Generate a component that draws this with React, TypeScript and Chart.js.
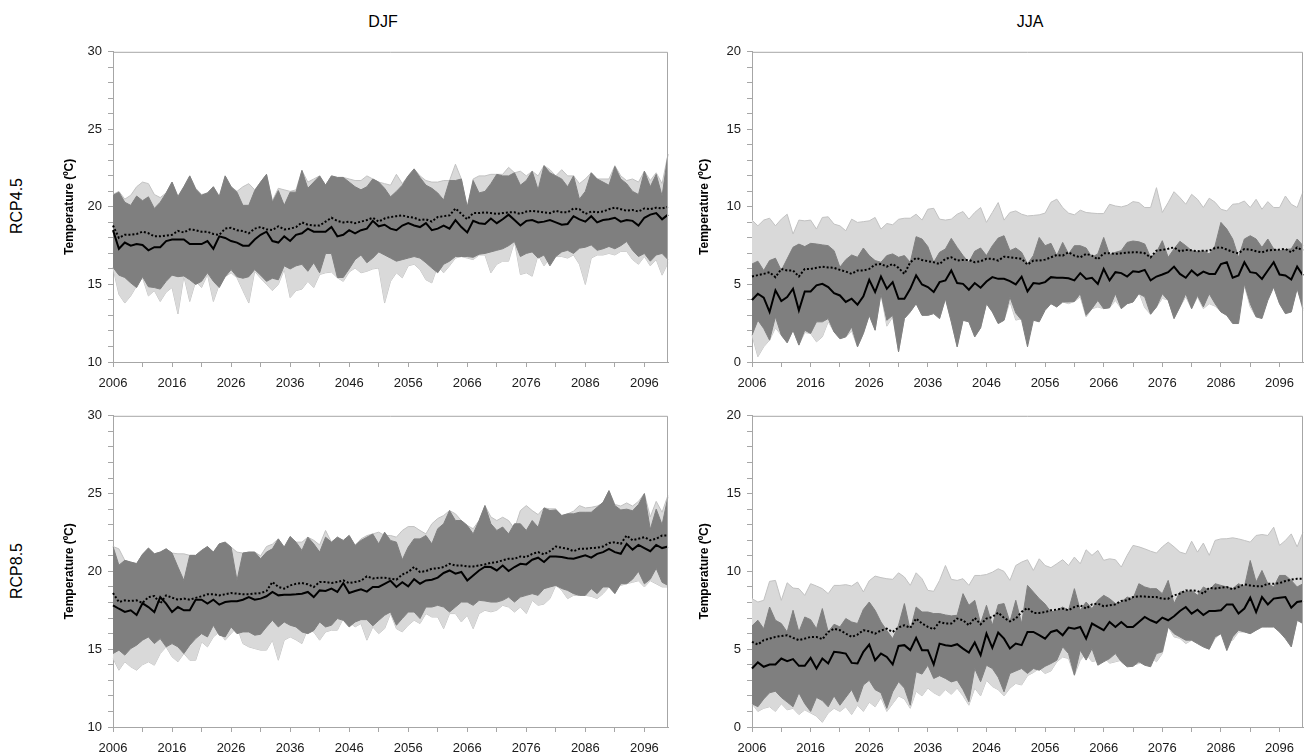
import React, { useEffect, useRef } from 'react';
import { Chart, registerables } from 'chart.js';

Chart.register(...registerables);

const FONT = '"Liberation Sans", Arial, Helvetica, sans-serif';
const LIGHT = '#d9d9d9';
const LIGHT_EDGE = '#c2c2c2';
const DARK = '#7f7f7f';
const AXIS = '#a6a6a6';
const TEXT = '#1a1a1a';

const years: string[] = [];
for (let y = 2006; y <= 2100; y++) years.push(String(y));

// ---------- DJF RCP4.5 ----------
const djf45Solid = [18.5, 17.3, 17.7, 17.5, 17.6, 17.55, 17.2, 17.4, 17.4, 17.8,
  17.9, 17.9, 17.9, 17.6, 17.6, 17.6, 17.8, 17.3, 18.1, 18.0,
  17.8, 17.7, 17.5, 17.5, 17.9, 18.2, 18.4, 17.8, 17.7, 18.1,
  17.8, 18.2, 18.3, 18.6, 18.4, 18.4, 18.4, 18.7, 18.1, 18.2,
  18.5, 18.3, 18.5, 18.6, 19.1, 18.75, 18.85, 18.6, 18.5, 18.8,
  18.95, 18.8, 18.7, 18.95, 18.5, 18.6, 18.8, 18.6, 19.15, 18.7,
  18.35, 19.1, 18.95, 18.9, 19.25, 18.95, 19.2, 19.5, 19.15, 18.8,
  19.1, 19.15, 19.0, 19.05, 19.15, 19.0, 18.85, 18.9, 19.4, 19.2,
  19.05, 19.4, 19.0, 19.15, 19.2, 19.3, 19.05, 19.15, 19.1, 18.8,
  19.3, 19.5, 19.6, 19.2, 19.5];
const djf45Dotted = [18.8, 18.0, 18.2, 18.2, 18.25, 18.4, 18.3, 18.1, 18.1, 18.15,
  18.2, 18.45, 18.35, 18.55, 18.5, 18.4, 18.4, 18.25, 18.2, 18.6,
  18.65, 18.5, 18.45, 18.3, 18.6, 18.7, 18.55, 18.5, 18.75, 18.55,
  18.6, 18.7, 19.0, 18.85, 18.8, 18.8, 19.05, 19.3, 19.1, 19.0,
  19.05, 18.95, 19.05, 19.15, 19.3, 19.05, 19.25, 19.35, 19.4, 19.45,
  19.35, 19.3, 19.15, 19.2, 19.05, 19.35, 19.4, 19.45, 19.9, 19.55,
  19.2, 19.6, 19.6, 19.65, 19.6, 19.55, 19.6, 19.65, 19.65, 19.55,
  19.7, 19.75, 19.7, 19.65, 19.6, 19.75, 19.65, 19.65, 19.9, 19.85,
  19.55, 19.7, 19.65, 19.7, 19.85, 19.95, 19.85, 19.75, 19.8, 19.7,
  19.9, 19.85, 19.95, 19.9, 20.0];
const djf45DarkHi = [20.75, 20.95, 20.3, 20.1, 20.7, 20.4, 20.65, 19.9, 20.3, 20.9,
  21.6, 20.65, 21.3, 22.0, 21.15, 20.75, 20.9, 21.3, 20.65, 22.0,
  21.3, 20.95, 20.1, 20.1, 21.05, 21.6, 22.1, 20.3, 21.05, 20.1,
  20.95, 20.95, 22.35, 21.2, 21.6, 22.0, 21.4, 22.0, 21.9, 21.9,
  21.6, 21.3, 21.1, 21.3, 21.8, 21.6, 21.2, 20.65, 21.0, 21.4,
  22.0, 22.45, 21.9, 21.4, 21.2, 20.9, 20.45, 21.7, 21.7, 21.8,
  20.0, 21.7, 20.9, 21.0, 21.5, 22.1, 22.0, 22.0, 22.2, 21.4,
  21.7, 22.3, 21.1, 22.66, 22.2, 22.0, 21.8, 21.3, 22.0, 20.5,
  21.0, 22.2, 21.8, 21.6, 21.4, 22.6, 21.8, 21.5, 21.0, 20.8,
  22.3, 21.3, 22.1, 20.7, 23.4];
const djf45DarkLo = [16.1, 15.6, 15.45, 15.1, 14.8, 15.5, 14.85, 14.8, 14.7, 15.2,
  15.6, 15.5, 15.55, 15.3, 15.0, 15.2, 15.75, 15.2, 14.8, 15.5,
  15.96, 15.5, 15.4, 15.5, 15.96, 15.6, 15.2, 15.4, 15.3, 16.2,
  16.0, 16.2, 16.3, 15.85, 16.4, 15.75, 17.0, 17.0, 15.45, 15.45,
  16.0, 16.6, 16.9, 16.4, 16.7, 17.1, 16.9, 16.7, 16.5, 16.6,
  16.7, 16.8, 16.7, 16.4, 16.06, 15.75, 16.3, 16.5, 16.8, 16.8,
  16.8, 16.75, 16.95, 17.0, 17.1, 17.2, 17.3, 17.5, 17.77, 16.8,
  17.0, 17.1, 16.7, 16.9, 16.2, 16.8, 17.1, 17.2, 17.0, 17.34,
  17.4, 17.55, 17.2, 17.3, 17.45, 17.3, 17.5, 17.77, 17.2, 16.8,
  17.0, 16.5, 16.9, 17.0, 16.6];
const djf45LightHi = [20.8, 21.0, 20.5, 20.75, 21.3, 21.6, 21.5, 20.8, 20.6, 20.9,
  21.6, 20.7, 21.3, 22.0, 21.2, 20.8, 20.9, 21.3, 20.7, 22.0,
  21.3, 21.0, 21.3, 21.5, 21.1, 21.6, 22.1, 20.4, 21.2, 21.1,
  21.0, 21.1, 22.35, 21.6, 21.8, 22.0, 21.4, 22.0, 21.9, 21.9,
  21.8, 21.7, 21.7, 22.0, 21.8, 21.6, 21.5, 21.4, 22.1, 21.5,
  22.0, 22.45, 22.0, 21.7, 21.6, 21.6, 21.7, 21.7, 22.75, 21.8,
  19.95, 21.8, 22.0, 22.0, 22.1, 22.1, 22.1, 22.55, 22.2, 22.3,
  22.0, 22.3, 22.0, 22.66, 22.4, 22.0, 22.4, 22.0, 22.0, 21.5,
  21.8, 22.2, 21.8, 21.8, 21.8, 22.66, 22.0, 21.7, 21.8, 21.6,
  22.3, 21.7, 22.2, 21.5, 23.4];
const djf45LightLo = [16.06, 14.36, 13.8, 14.26, 14.9, 15.43, 14.26, 14.6, 13.9, 14.5,
  14.8, 13.1, 15.53, 13.9, 15.2, 14.8, 15.64, 13.9, 15.0, 15.5,
  15.75, 15.43, 14.6, 13.8, 15.85, 15.4, 15.0, 14.6, 15.0, 15.96,
  14.15, 14.6, 14.7, 15.2, 14.8, 15.64, 15.75, 15.8, 15.43, 15.2,
  15.8, 16.06, 15.75, 15.85, 16.0, 16.06, 13.8, 15.2, 15.75, 15.43,
  16.2, 16.3, 15.96, 15.3, 15.1, 16.2, 15.75, 16.2, 16.7, 16.8,
  16.7, 16.6, 16.9, 16.9, 15.75, 16.3, 16.5, 16.5, 17.77, 15.64,
  15.75, 15.53, 16.9, 16.2, 16.7, 16.8, 16.8, 16.7, 16.9, 16.3,
  15.0, 16.7, 16.9, 16.9, 17.0, 16.9, 17.13, 17.13, 16.6, 16.3,
  16.8, 16.2, 16.6, 15.6, 16.4];

// ---------- JJA RCP4.5 ----------
const jja45Solid = [4.0, 4.4, 4.15, 3.23, 4.62, 3.93, 4.19, 4.72, 3.33, 4.55,
  4.55, 4.94, 5.04, 4.83, 4.44, 4.29, 3.87, 4.08, 3.7, 4.23,
  5.3, 4.51, 5.51, 4.72, 5.15, 4.08, 4.08, 4.72, 5.58, 5.0,
  4.83, 4.51, 5.15, 5.26, 5.9, 5.09, 5.04, 4.66, 5.09, 4.79,
  5.19, 5.47, 5.36, 5.36, 5.21, 5.0, 5.5, 4.55, 5.09, 5.04,
  5.15, 5.47, 5.43, 5.43, 5.4, 5.26, 5.73, 5.36, 5.43, 5.04,
  6.0, 5.26, 5.79, 5.73, 5.51, 5.85, 5.8, 5.94, 5.26, 5.51,
  5.64, 5.79, 6.15, 5.68, 5.43, 5.9, 5.58, 5.83, 5.68, 5.68,
  6.32, 6.43, 5.43, 5.58, 6.43, 5.79, 5.73, 5.36, 5.9, 6.43,
  5.64, 5.58, 5.32, 6.15, 5.58];
const jja45Dotted = [5.51, 5.6, 5.68, 5.79, 5.47, 6.0, 5.9, 5.9, 5.51, 6.0,
  6.0, 6.07, 6.15, 6.1, 6.07, 5.94, 5.83, 5.68, 5.9, 5.9,
  6.0, 6.28, 6.32, 6.15, 6.32, 6.07, 5.68, 6.43, 6.71, 6.58,
  6.5, 6.43, 6.32, 6.65, 6.75, 6.54, 6.58, 6.58, 6.43, 6.5,
  6.65, 6.65, 6.54, 6.79, 6.75, 6.7, 6.65, 6.28, 6.54, 6.54,
  6.6, 6.75, 6.9, 6.86, 7.07, 6.86, 6.75, 6.97, 6.86, 6.62,
  7.01, 7.01, 6.97, 7.01, 7.05, 7.07, 7.07, 7.01, 6.75, 7.18,
  7.22, 7.3, 7.39, 7.14, 7.22, 7.2, 7.14, 7.18, 7.18, 7.35,
  7.39, 7.25, 7.1, 7.01, 7.29, 7.25, 7.14, 7.07, 7.2, 7.22,
  7.25, 7.29, 7.07, 7.39, 7.18];
const jja45DarkHi = [6.32, 6.5, 5.9, 6.54, 6.69, 5.9, 6.65, 7.4, 7.6, 7.44,
  7.65, 7.61, 7.55, 7.5, 7.18, 6.11, 6.6, 6.9, 6.75, 7.35,
  6.86, 6.54, 6.43, 6.86, 6.97, 6.75, 6.86, 6.43, 8.08, 7.93,
  7.44, 6.43, 7.07, 7.29, 7.97, 7.39, 6.86, 6.43, 7.14, 7.35,
  6.86, 7.5, 7.99, 8.14, 7.18, 7.35, 7.07, 6.32, 6.86, 8.03,
  7.5, 7.65, 6.86, 7.71, 6.97, 7.5, 7.5, 7.35, 6.75, 6.97,
  8.03, 6.92, 7.07, 7.18, 7.71, 7.8, 7.75, 7.61, 6.75, 7.07,
  7.82, 6.75, 7.29, 7.78, 7.5, 7.18, 7.1, 7.18, 6.97, 7.5,
  9.0, 8.57, 7.93, 6.75, 7.93, 8.14, 7.93, 7.39, 7.93, 7.29,
  7.18, 7.25, 7.29, 7.93, 7.5];
const jja45DarkLo = [1.73, 2.69, 2.16, 1.41, 2.91, 1.73, 1.24, 2.05, 1.09, 2.05,
  1.84, 2.59, 2.59, 2.8, 1.94, 1.5, 1.62, 2.26, 0.98, 1.84,
  3.01, 2.05, 4.4, 2.69, 3.01, 0.66, 2.8, 3.23, 3.76, 3.01,
  3.01, 3.12, 2.8, 4.08, 2.59, 0.98, 2.69, 2.59, 1.62, 2.2,
  3.76, 3.23, 2.48, 2.69, 4.19, 3.16, 2.69, 0.98, 2.69, 2.59,
  3.33, 3.76, 3.55, 3.87, 3.87, 3.9, 4.4, 3.01, 3.44, 3.97,
  3.44, 3.5, 4.4, 3.44, 3.76, 3.87, 4.4, 4.2, 3.08, 3.55,
  4.4, 3.97, 2.8, 3.55, 4.4, 3.44, 4.29, 3.55, 4.4, 3.76,
  3.23, 3.0, 2.48, 2.48, 5.04, 3.76, 2.91, 2.8, 3.97, 4.83,
  3.76, 3.12, 3.23, 4.72, 3.44];
const jja45LightHi = [9.15, 8.78, 9.15, 9.27, 8.78, 9.21, 9.53, 8.25, 9.15, 9.1,
  9.15, 8.57, 9.32, 9.36, 8.89, 8.78, 8.46, 9.21, 9.0, 9.05,
  9.1, 9.32, 8.57, 8.93, 8.85, 9.2, 9.27, 9.27, 9.53, 9.15,
  9.85, 9.91, 9.21, 9.15, 9.21, 9.53, 9.7, 9.21, 9.64, 9.96,
  9.0, 9.64, 10.28, 9.15, 9.64, 9.74, 9.53, 9.42, 9.45, 9.49,
  9.6, 10.3, 10.5, 9.96, 9.6, 9.49, 9.79, 9.64, 9.6, 9.57,
  9.57, 10.17, 10.06, 10.0, 10.1, 10.34, 10.28, 9.96, 9.96, 11.24,
  9.64, 10.28, 10.98, 10.6, 10.17, 10.81, 10.49, 9.96, 10.56, 10.3,
  9.85, 9.74, 10.17, 10.21, 10.38, 9.96, 10.49, 9.85, 10.34, 9.96,
  9.96, 10.7, 10.17, 9.96, 10.98];
const jja45LightLo = [1.73, 0.34, 0.98, 1.41, 2.2, 1.73, 1.24, 2.05, 1.09, 1.9,
  1.84, 1.3, 1.62, 2.6, 1.94, 1.5, 1.62, 2.0, 0.98, 1.84,
  3.01, 2.05, 4.4, 2.31, 2.91, 0.66, 2.8, 3.23, 3.76, 3.01,
  3.01, 3.12, 2.8, 4.08, 2.59, 0.98, 2.69, 2.59, 1.62, 2.2,
  3.76, 3.23, 2.48, 2.69, 3.9, 2.7, 2.8, 2.4, 2.69, 2.8,
  3.55, 3.76, 3.55, 3.87, 3.76, 3.9, 4.2, 2.91, 3.44, 3.55,
  3.44, 3.5, 3.97, 3.44, 3.76, 3.87, 4.5, 3.5, 3.08, 3.55,
  4.1, 4.0, 2.8, 3.55, 4.2, 3.44, 4.2, 3.44, 3.76, 3.6,
  3.23, 3.12, 3.08, 3.0, 4.94, 3.55, 2.91, 2.91, 4.6, 4.83,
  3.76, 3.12, 3.23, 4.83, 3.3];

// ---------- DJF RCP8.5 ----------
const djf85Solid = [17.82, 17.6, 17.4, 17.5, 17.2, 17.95, 17.71, 17.39, 18.35, 17.93,
  17.39, 17.71, 17.5, 17.5, 18.18, 18.18, 17.93, 18.18, 17.86, 18.03,
  18.08, 18.08, 18.18, 18.35, 18.18, 18.25, 18.4, 18.68, 18.46, 18.5,
  18.5, 18.53, 18.57, 18.68, 18.35, 18.78, 18.74, 18.89, 18.68, 19.25,
  18.61, 18.74, 18.85, 18.7, 19.0, 19.0, 19.2, 19.4, 19.0, 19.3,
  19.04, 19.5, 19.21, 19.42, 19.47, 19.6, 19.9, 20.06, 19.85, 19.96,
  19.42, 19.74, 20.06, 20.3, 20.28, 20.06, 20.38, 20.02, 20.28, 20.49,
  20.45, 20.75, 20.88, 20.6, 20.96, 20.96, 20.92, 20.85, 20.81, 20.92,
  21.03, 20.88, 21.13, 21.24, 21.45, 21.24, 21.13, 21.77, 21.4, 21.7,
  21.5, 21.3, 21.7, 21.5, 21.6];
const djf85Dotted = [18.61, 18.03, 18.14, 18.1, 18.14, 17.97, 18.35, 18.42, 17.93, 18.46,
  18.31, 18.18, 18.25, 18.18, 18.3, 18.4, 18.53, 18.53, 18.46, 18.53,
  18.61, 18.57, 18.53, 18.53, 18.58, 18.6, 18.74, 19.32, 19.0, 18.89,
  19.1, 19.2, 19.25, 19.17, 19.0, 19.32, 19.32, 19.25, 19.32, 19.42,
  19.25, 19.32, 19.4, 19.68, 19.55, 19.6, 19.59, 19.53, 19.47, 19.8,
  19.96, 20.28, 19.96, 20.02, 20.17, 20.2, 20.28, 20.49, 20.38, 20.38,
  20.32, 20.32, 20.38, 20.45, 20.55, 20.6, 20.71, 20.81, 20.81, 20.96,
  20.92, 21.13, 21.24, 21.09, 21.3, 21.6, 21.52, 21.45, 21.3, 21.45,
  21.45, 21.5, 21.52, 21.6, 21.82, 21.88, 21.77, 22.31, 22.0, 22.1,
  22.2, 22.0, 22.1, 22.3, 22.3];
const djf85DarkHi = [21.6, 20.4, 20.71, 20.6, 20.5, 21.1, 21.5, 21.13, 21.24, 21.45,
  21.18, 20.28, 19.42, 21.03, 21.03, 21.35, 21.6, 21.24, 21.77, 21.88,
  21.56, 19.42, 21.18, 21.24, 21.24, 20.81, 21.24, 21.45, 22.09, 21.56,
  22.24, 21.88, 21.35, 22.2, 21.77, 21.24, 22.2, 21.88, 22.2, 21.99,
  22.31, 21.67, 21.99, 22.2, 22.4, 21.77, 22.52, 21.99, 21.88, 20.75,
  21.56, 22.09, 22.09, 22.31, 21.77, 22.74, 23.06, 23.91, 23.27, 23.27,
  22.95, 22.41, 23.27, 24.23, 23.06, 22.63, 22.85, 22.41, 23.06, 23.06,
  22.63, 23.27, 22.84, 24.08, 23.91, 23.95, 23.59, 23.7, 23.7, 23.8,
  23.8, 23.8, 24.12, 24.44, 25.19, 24.23, 23.95, 24.0, 23.9, 24.3,
  25.0, 22.7, 24.0, 23.0, 24.8];
const djf85DarkLo = [14.72, 14.94, 14.62, 15.04, 15.26, 15.58, 15.79, 15.36, 15.68, 15.15,
  15.36, 15.15, 14.72, 15.26, 15.68, 16.0, 15.79, 16.54, 15.9, 15.79,
  16.43, 16.0, 16.11, 16.11, 15.9, 15.96, 16.43, 16.86, 16.43, 16.75,
  16.54, 16.43, 16.11, 16.0, 16.2, 16.75, 16.43, 16.54, 16.97, 16.86,
  16.43, 16.75, 16.9, 16.9, 16.5, 16.85, 17.18, 17.39, 16.54, 16.97,
  17.39, 17.39, 16.97, 17.71, 17.71, 17.82, 17.71, 17.39, 17.71, 18.03,
  18.03, 17.82, 18.14, 18.1, 18.03, 18.03, 18.14, 18.35, 18.03, 18.35,
  18.46, 18.57, 18.46, 18.89, 19.0, 19.1, 18.9, 18.78, 18.57, 18.46,
  18.46, 18.89, 18.57, 19.0, 19.0, 18.57, 19.21, 19.21, 19.5, 20.0,
  19.2, 19.5, 20.2, 19.3, 19.1];
const djf85LightHi = [21.6, 21.45, 20.71, 20.6, 20.5, 21.1, 21.5, 21.13, 21.24, 21.45,
  21.18, 21.13, 21.13, 21.03, 21.03, 21.35, 21.6, 21.24, 21.77, 21.88,
  21.56, 21.24, 21.18, 21.24, 21.24, 21.0, 21.6, 21.75, 22.09, 21.56,
  22.24, 21.88, 21.88, 22.2, 22.0, 21.7, 22.63, 21.88, 22.2, 21.99,
  22.31, 21.67, 22.09, 22.3, 22.41, 22.52, 22.31, 22.31, 22.2, 22.63,
  22.88, 22.88, 22.63, 22.41, 23.06, 23.4, 23.59, 23.91, 23.7, 23.27,
  22.95, 22.74, 23.27, 24.23, 23.5, 23.27, 23.48, 23.27, 22.74, 23.91,
  24.23, 23.91, 23.65, 24.08, 24.02, 24.02, 23.59, 23.7, 23.87, 24.23,
  24.08, 24.12, 24.2, 24.38, 25.19, 24.3, 24.2, 24.4, 24.2, 24.5,
  25.0, 23.5, 24.5, 23.8, 24.9];
const djf85LightLo = [14.4, 13.65, 14.19, 13.87, 13.65, 14.0, 14.19, 13.97, 14.72, 15.15,
  14.51, 14.19, 14.72, 14.29, 14.29, 15.47, 15.15, 15.79, 16.11, 15.58,
  16.0, 16.43, 15.36, 15.15, 15.04, 14.94, 14.94, 15.58, 14.29, 15.58,
  15.79, 15.6, 15.36, 16.32, 16.11, 15.58, 16.11, 16.22, 16.22, 16.97,
  16.75, 16.43, 16.65, 15.58, 16.43, 16.0, 16.32, 17.29, 16.32, 16.11,
  16.54, 16.86, 16.65, 17.29, 17.07, 17.07, 16.32, 17.29, 17.29, 16.75,
  17.18, 16.32, 17.29, 17.5, 17.4, 17.5, 17.82, 17.71, 17.39, 17.71,
  17.29, 18.14, 17.82, 17.9, 18.25, 19.1, 18.78, 18.25, 18.46, 18.46,
  18.46, 18.4, 18.25, 18.57, 19.0, 19.0, 19.1, 19.21, 19.3, 19.4,
  19.0, 19.4, 19.2, 19.0, 19.0];

// ---------- JJA RCP8.5 ----------
const jja85Solid = [3.76, 4.15, 3.87, 4.02, 4.02, 4.4, 4.23, 4.36, 3.93, 3.93,
  4.44, 3.76, 4.4, 4.08, 4.83, 4.79, 4.72, 4.12, 4.08, 4.83,
  5.3, 4.29, 4.72, 4.5, 4.02, 5.21, 5.26, 4.94, 5.73, 4.94,
  4.94, 4.02, 5.36, 5.26, 5.21, 5.32, 5.04, 4.79, 5.43, 4.62,
  6.0, 5.09, 6.07, 5.68, 5.04, 5.36, 5.26, 6.11, 6.11, 5.9,
  5.68, 6.11, 6.22, 5.9, 6.39, 6.32, 6.43, 5.68, 6.65, 6.43,
  6.22, 6.75, 6.43, 6.75, 6.43, 6.43, 6.75, 7.07, 6.86, 6.7,
  7.03, 6.86, 7.12, 7.46, 7.71, 7.29, 7.54, 7.2, 7.46, 7.46,
  7.5, 7.88, 7.88, 7.29, 7.61, 8.31, 7.39, 8.35, 7.88, 8.25,
  8.31, 8.35, 7.67, 8.03, 8.1];
const jja85Dotted = [5.47, 5.3, 5.58, 5.68, 5.79, 5.85, 5.9, 5.73, 5.58, 5.68,
  5.79, 5.79, 5.64, 6.11, 6.32, 6.22, 6.0, 5.79, 5.94, 6.22,
  6.15, 6.0, 6.2, 6.32, 6.11, 6.4, 6.54, 6.37, 6.97, 6.65,
  6.43, 6.28, 6.75, 6.65, 6.65, 6.97, 6.86, 6.54, 7.01, 6.6,
  6.97, 7.07, 7.35, 7.01, 6.79, 6.97, 7.4, 7.65, 7.33, 7.33,
  7.39, 7.5, 7.55, 7.6, 7.5, 7.71, 7.82, 7.61, 7.88, 7.93,
  7.76, 7.82, 7.88, 8.1, 8.14, 8.35, 8.4, 8.38, 8.35, 8.35,
  8.25, 8.25, 8.46, 8.57, 8.78, 8.78, 8.74, 8.57, 8.95, 8.9,
  8.95, 9.0, 8.85, 9.0, 9.17, 9.1, 9.04, 9.04, 9.21, 9.21,
  9.25, 9.38, 9.47, 9.53, 9.53];
const jja85DarkHi = [6.5, 6.86, 6.32, 7.71, 6.86, 6.65, 6.11, 7.5, 6.11, 7.07,
  6.9, 6.32, 7.61, 6.11, 6.6, 6.43, 6.97, 6.75, 6.65, 7.56,
  8.03, 7.5, 6.75, 6.2, 5.68, 6.54, 7.93, 6.22, 7.71, 7.39,
  7.39, 7.29, 7.29, 7.2, 7.14, 7.18, 8.57, 7.82, 8.14, 6.65,
  7.82, 6.54, 7.86, 7.93, 6.75, 8.14, 6.65, 9.1, 8.68, 8.25,
  7.9, 7.39, 7.5, 7.71, 7.5, 8.89, 7.5, 8.03, 7.61, 8.14,
  8.46, 8.25, 7.93, 8.03, 8.35, 8.25, 9.21, 9.0, 8.89, 8.89,
  8.57, 9.42, 7.93, 8.68, 8.68, 8.78, 8.46, 9.0, 8.78, 9.21,
  9.1, 9.0, 8.89, 9.21, 9.0, 10.7, 9.32, 10.06, 9.21, 9.0,
  9.74, 9.74, 9.42, 9.0, 9.21];
const jja85DarkLo = [1.5, 1.3, 1.8, 2.2, 2.3, 1.9, 1.6, 1.3, 2.2, 1.5,
  1.0, 1.9, 1.7, 1.3, 2.0, 1.4, 1.9, 2.4, 1.6, 2.7,
  3.0, 2.4, 2.2, 1.2, 2.26, 2.91, 2.5, 1.4, 3.55, 3.4,
  3.97, 3.12, 3.3, 3.12, 2.9, 3.01, 2.4, 1.62, 3.76, 2.91,
  3.97, 3.76, 3.2, 2.26, 3.44, 3.6, 3.76, 3.44, 3.76, 3.65,
  3.9, 4.08, 4.29, 5.15, 4.72, 3.33, 4.94, 4.3, 5.04, 3.97,
  4.19, 4.4, 4.72, 4.19, 3.87, 3.9, 4.19, 3.97, 3.87, 4.72,
  4.83, 6.43, 6.0, 5.79, 5.58, 5.58, 5.36, 5.15, 5.0, 5.79,
  6.0, 4.91, 5.79, 6.22, 6.11, 6.0, 6.22, 6.43, 6.43, 6.43,
  6.11, 5.68, 5.15, 6.86, 6.65];
const jja85LightHi = [8.25, 8.03, 8.14, 9.36, 9.42, 8.14, 9.27, 8.93, 8.89, 8.46,
  9.21, 9.06, 8.89, 8.57, 9.1, 9.1, 9.15, 9.06, 9.32, 8.68,
  9.4, 9.7, 9.6, 9.53, 9.49, 9.91, 9.64, 9.1, 9.91, 9.53,
  8.78, 8.72, 9.42, 10.38, 9.49, 9.42, 9.53, 9.1, 9.74, 9.74,
  9.8, 9.95, 10.17, 10.0, 9.42, 10.38, 10.6, 10.75, 10.06, 10.81,
  10.38, 10.24, 10.49, 10.75, 10.38, 10.92, 10.49, 11.39, 11.03, 11.35,
  10.71, 10.81, 10.75, 10.28, 11.03, 11.67, 11.58, 11.45, 11.3, 11.18,
  11.58, 11.88, 11.58, 11.24, 11.13, 11.94, 11.24, 11.82, 11.03, 11.99,
  12.09, 12.1, 12.16, 12.09, 11.99, 11.88, 12.31, 12.37, 12.31, 12.84,
  11.67, 11.99, 12.41, 11.58, 12.52];
const jja85LightLo = [1.5, 1.0, 1.2, 1.3, 1.0, 1.5, 1.1, 1.2, 0.8, 1.1,
  0.9, 0.7, 0.3, 0.9, 1.2, 1.0, 1.3, 0.8, 1.4, 1.0,
  1.6, 1.3, 1.9, 1.0, 1.5, 2.0, 1.8, 1.2, 2.3, 2.0,
  2.5, 2.2, 2.0, 2.4, 2.1, 2.5, 2.0, 1.4, 2.5, 2.0,
  3.0, 2.6, 2.4, 2.0, 2.5, 2.8, 2.7, 3.3, 3.5, 3.76,
  3.44, 3.6, 4.19, 4.5, 4.4, 3.33, 4.29, 4.72, 4.2, 4.29,
  4.51, 4.1, 4.19, 4.29, 4.6, 3.97, 4.08, 4.29, 4.51, 4.19,
  4.72, 6.43, 5.79, 5.7, 5.36, 5.58, 5.36, 5.15, 5.0, 5.7,
  6.0, 5.6, 5.58, 6.11, 6.11, 6.0, 6.22, 6.43, 6.43, 6.43,
  6.11, 5.68, 5.15, 6.86, 6.65];

const djfRange = [10, 30];
const jjaRange = [0, 20];

type Series = { lightHi: number[]; lightLo: number[]; darkHi: number[]; darkLo: number[]; dotted: number[]; solid: number[] };
type Box = { left: number; top: number; w: number; h: number; yW: number; padTop: number; padRight: number; xH: number };

const framePlugin = {
  id: 'frame',
  afterDatasetsDraw(chart: any) {
    const { ctx, chartArea: a } = chart;
    ctx.save();
    ctx.strokeStyle = AXIS;
    ctx.lineWidth = 1;
    ctx.beginPath();
    ctx.moveTo(a.left, a.top + 0.5);
    ctx.lineTo(a.right - 0.5, a.top + 0.5);
    ctx.lineTo(a.right - 0.5, a.bottom);
    ctx.stroke();
    ctx.restore();
  },
};

function Panel({ box, range, s }: { box: Box; range: number[]; s: Series }) {
  const ref = useRef<HTMLCanvasElement>(null);
  useEffect(() => {
    const line = (data: number[], extra: any) => ({ data, pointRadius: 0, tension: 0, ...extra });
    const chart = new Chart(ref.current as HTMLCanvasElement, {
      type: 'line',
      data: {
        labels: years,
        datasets: [
          line(s.lightHi, { fill: '+1', backgroundColor: LIGHT, borderColor: LIGHT_EDGE, borderWidth: 1, order: 4 }),
          line(s.lightLo, { fill: false, borderColor: LIGHT_EDGE, borderWidth: 1, order: 4 }),
          line(s.darkHi, { fill: '+1', backgroundColor: DARK, borderColor: DARK, borderWidth: 1, order: 3 }),
          line(s.darkLo, { fill: false, borderColor: DARK, borderWidth: 1, order: 3 }),
          line(s.dotted, { fill: false, borderColor: '#000', borderWidth: 2, borderDash: [2, 2], order: 2 }),
          line(s.solid, { fill: false, borderColor: '#000', borderWidth: 2, order: 1 }),
        ],
      },
      options: {
        responsive: false,
        animation: false,
        events: [],
        layout: { padding: { top: box.padTop, right: box.padRight, left: 0, bottom: 0 } },
        plugins: { legend: { display: false }, tooltip: { enabled: false } },
        scales: {
          x: {
            type: 'category',
            grid: {
              drawOnChartArea: false,
              drawTicks: true,
              tickLength: 5,
              color: (ctx: any) => (ctx.index % 5 === 0 ? AXIS : 'rgba(0,0,0,0)'),
            },
            border: { display: true, color: AXIS, width: 1 },
            ticks: {
              autoSkip: false,
              maxRotation: 0,
              minRotation: 0,
              padding: 9,
              color: TEXT,
              font: { size: 13, family: FONT },
              callback: (_v: any, i: number) => (i % 10 === 0 ? years[i] : ''),
            },
            afterFit: (sc: any) => { sc.height = box.xH; },
          },
          y: {
            min: range[0],
            max: range[1],
            grid: { drawOnChartArea: false, drawTicks: true, tickLength: 5, color: AXIS },
            border: { display: true, color: AXIS, width: 1 },
            ticks: {
              stepSize: 1,
              autoSkip: false,
              padding: 6,
              color: TEXT,
              font: { size: 13, family: FONT },
              callback: (v: any) => (Number(v) % 5 === 0 ? String(v) : ''),
            },
            title: {
              display: true,
              text: 'Temperature (ºC)',
              color: '#000',
              font: { size: 12, weight: 'bold', family: FONT },
              padding: { top: 4, bottom: 4 },
            },
            afterFit: (sc: any) => { sc.width = box.yW; },
          },
        },
      } as any,
      plugins: [framePlugin],
    } as any);
    return () => chart.destroy();
  }, []);
  return (
    <canvas
      ref={ref}
      width={box.w}
      height={box.h}
      style={{ position: 'absolute', left: box.left, top: box.top, width: box.w, height: box.h }}
    />
  );
}

const labelStyle: React.CSSProperties = {
  position: 'absolute',
  fontFamily: FONT,
  fontSize: 16,
  color: '#000',
  whiteSpace: 'nowrap',
  transform: 'translate(-50%, -50%)',
};

export default function App() {
  const tl: Box = { left: 58, top: 38, w: 620, h: 354, yW: 55, padTop: 12, padRight: 10, xH: 30 };
  const tr: Box = { left: 693, top: 38, w: 619, h: 354, yW: 59, padTop: 12, padRight: 5, xH: 30 };
  const bl: Box = { left: 58, top: 402, w: 620, h: 354, yW: 55, padTop: 13, padRight: 10, xH: 29 };
  const br: Box = { left: 693, top: 402, w: 619, h: 354, yW: 59, padTop: 13, padRight: 5, xH: 29 };
  return (
    <div style={{ position: 'absolute', left: 0, top: 0, width: 1312, height: 756, background: '#fff', overflow: 'hidden' }}>
      <div style={{ ...labelStyle, left: 383, top: 22 }}>DJF</div>
      <div style={{ ...labelStyle, left: 1030, top: 22 }}>JJA</div>
      <div style={{ ...labelStyle, left: 17, top: 206, transform: 'translate(-50%, -50%) rotate(-90deg)' }}>RCP4.5</div>
      <div style={{ ...labelStyle, left: 17, top: 571, transform: 'translate(-50%, -50%) rotate(-90deg)' }}>RCP8.5</div>
      <Panel box={tl} range={djfRange} s={{ lightHi: djf45LightHi, lightLo: djf45LightLo, darkHi: djf45DarkHi, darkLo: djf45DarkLo, dotted: djf45Dotted, solid: djf45Solid }} />
      <Panel box={tr} range={jjaRange} s={{ lightHi: jja45LightHi, lightLo: jja45LightLo, darkHi: jja45DarkHi, darkLo: jja45DarkLo, dotted: jja45Dotted, solid: jja45Solid }} />
      <Panel box={bl} range={djfRange} s={{ lightHi: djf85LightHi, lightLo: djf85LightLo, darkHi: djf85DarkHi, darkLo: djf85DarkLo, dotted: djf85Dotted, solid: djf85Solid }} />
      <Panel box={br} range={jjaRange} s={{ lightHi: jja85LightHi, lightLo: jja85LightLo, darkHi: jja85DarkHi, darkLo: jja85DarkLo, dotted: jja85Dotted, solid: jja85Solid }} />
    </div>
  );
}
